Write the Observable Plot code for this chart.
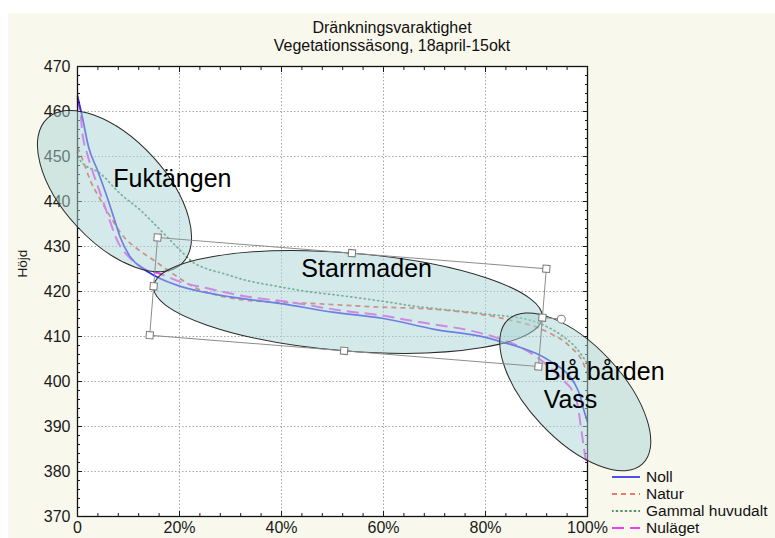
<!DOCTYPE html>
<html>
<head>
<meta charset="utf-8">
<script src="https://cdn.jsdelivr.net/npm/d3@7"></script>
<script src="https://cdn.jsdelivr.net/npm/@observablehq/plot@0.6"></script>
<style>
  body { margin: 0; background: #fff; font-family: "Liberation Sans", Arial, sans-serif; }
  #wrap { position: relative; width: 775px; height: 538px; overflow: hidden; }
  #bg { position: absolute; left: 8px; top: 13px; right: 0; bottom: 0; background: #f9f8ed; }
  #chart { position: absolute; left: 0; top: 0; }
  #title { position: absolute; left: 0; width: 784px; top: 19px; text-align: center; font-size: 16px; line-height: 17.5px; color: #111; }
  #legend { position: absolute; left: 612px; top: 468px; font-size: 15.5px; color: #111; }
  #legend .row { height: 17px; display: flex; align-items: center; white-space: nowrap; }
  #legend svg { margin-right: 6px; }
</style>
</head>
<body>
<div id="wrap">
  <div id="bg"></div>
  <div id="chart"></div>
  <div id="title">Dränkningsvaraktighet<br>Vegetationssäsong, 18april-15okt</div>
  <div id="legend"></div>
</div>
<script>
// ---- data ----
const xTicks = [0, 20, 40, 60, 80, 100];
const xTickLabels = ["0", "20%", "40%", "60%", "80%", "100%"];
const yTicks = [370, 380, 390, 400, 410, 420, 430, 440, 450, 460, 470];
const yLabel = "Höjd";

const seriesNames = ["Noll", "Natur", "Gammal huvudalt", "Nuläget"];

// [percent of time, height]
const noll = [[0,463.5],[0.3,462],[0.9,459],[2.2,452],[3.9,447],[5.8,441],[7.1,436.5],[8.4,432],[10.4,427.6],[13,425],[15.6,423.2],[20,421.2],[25,419.8],[30,418.8],[40,417.3],[50,415.4],[60,414],[70,411.6],[80,409.8],[83.5,408.7],[87,407.5],[90,406.2],[93,404.3],[96,401.8],[97.5,399.5],[98.5,397],[99.2,394],[100,391]];
const natur = [[0,452],[0.3,451.3],[1.2,448.7],[2.5,444.7],[4.2,441],[6.5,436.5],[9.1,432.1],[11.7,429.5],[15,426.9],[18.9,423.8],[23.5,420.6],[28,419],[32,418.2],[40,417.6],[45,417.4],[58,416.6],[70.5,416],[75,415.5],[80.4,414.7],[85,413.6],[90.2,412],[93,410.5],[95.3,409],[97,407.3],[98.6,405.3],[100,401.8]];
const gammal = [[0,451],[0.6,449],[4.5,446.2],[8.4,441.7],[12.4,438],[16.3,433.6],[20.2,429.1],[22.5,426.6],[25,425.2],[28.6,424],[33,422.5],[38.4,421.3],[45,420],[51.6,419.1],[60,417.8],[67,416.6],[71,416.1],[80,415],[88.8,413.6],[92,412.2],[95,410.2],[97.5,407.8],[100,404]];
const nulaget = [[0,463],[0.3,461.5],[0.6,459.5],[0.9,455.8],[1.9,450.6],[2.9,446.9],[4.5,441.7],[6.1,436.5],[7.8,431.3],[10.4,427.3],[13.7,424.7],[16,424],[20,422.2],[25.5,420.7],[32,419.1],[41.8,417.6],[51.6,415.8],[60,414.6],[67,413.2],[77,411.3],[82,409.8],[86.9,407.6],[90,405.5],[93.3,402.4],[95.5,400],[97.3,397.3],[98.2,394],[98.6,390.7],[99.2,386],[99.6,383.1],[100,382]];

// annotation zones (centres and label anchors in data units)
const zoneLabels = ["Fuktängen", "Starrmaden", "Blå bården\nVass"];
const zoneCx = [7.35, 53.14, 97.7];
const zoneCy = [442.2, 417.56, 397.6];
const zoneLx = [18.6, 56.7, 91.4];
const zoneLy = [445.1, 425.1, 399.3];

// ---- styles ----
const seriesStyle = [
  {stroke: "#2f2fee", dash: null, width: 1.7},
  {stroke: "#e8503f", dash: "5,4", width: 1.7},
  {stroke: "#4f9066", dash: "1,3.5", width: 1.8},
  {stroke: "#f43cf4", dash: "12,6", width: 2}
];
const zoneShape = [
  {rx: 99, ry: 51.5, rot: 47.3},
  {rx: 195, ry: 49, rot: 4.6},
  {rx: 98.6, ry: 47, rot: 47}
];

const allSeries = [noll, natur, gammal, nulaget];
const rows = [];
allSeries.forEach((s, i) => s.forEach(([p, h]) => rows.push({serie: seriesNames[i], p, h})));
const zones = zoneLabels.map((label, i) => ({label, cx: zoneCx[i], cy: zoneCy[i], lx: zoneLx[i], ly: zoneLy[i]}));

function ellipses(index, scales) {
  const g = d3.create("svg:g");
  zones.forEach((z, i) => {
    const s = zoneShape[i];
    g.append("ellipse")
      .attr("transform", `translate(${scales.x(z.cx)},${scales.y(z.cy)}) rotate(${s.rot})`)
      .attr("rx", s.rx).attr("ry", s.ry)
      .attr("fill", "rgb(170,212,212)").attr("fill-opacity", 0.5)
      .attr("stroke", "#2a2a2a").attr("stroke-width", 1);
  });
  return g.node();
}

function selection(index, scales) {
  const z = zones[1], s = zoneShape[1];
  const g = d3.create("svg:g")
    .attr("transform", `translate(${scales.x(z.cx)},${scales.y(z.cy)}) rotate(${s.rot})`);
  g.append("rect").attr("x", -s.rx).attr("y", -s.ry).attr("width", 2 * s.rx).attr("height", 2 * s.ry)
    .attr("fill", "none").attr("stroke", "#8c8c8c").attr("stroke-width", 1);
  g.append("line").attr("x1", s.rx).attr("y1", 0).attr("x2", s.rx + 15).attr("y2", 0)
    .attr("stroke", "#8c8c8c");
  g.append("circle").attr("cx", s.rx + 19).attr("cy", 0).attr("r", 4)
    .attr("fill", "white").attr("stroke", "#777").attr("stroke-width", 1);
  for (const hx of [-1, 0, 1]) for (const hy of [-1, 0, 1]) {
    if (hx === 0 && hy === 0) continue;
    g.append("rect").attr("x", hx * s.rx - 3.5).attr("y", hy * s.ry - 3.5).attr("width", 7).attr("height", 7)
      .attr("fill", "white").attr("stroke", "#777").attr("stroke-width", 1);
  }
  return g.node();
}

const xMinor = d3.range(0, 101, 4);
const yMinor = d3.range(370, 471, 2);
const blank = () => "";

const lineMarks = [2, 1, 3, 0].map(i => Plot.line(rows.filter(r => r.serie === seriesNames[i]), {
  x: "p", y: "h", curve: "monotone-x",
  stroke: seriesStyle[i].stroke, strokeWidth: seriesStyle[i].width,
  strokeDasharray: seriesStyle[i].dash, strokeLinecap: i === 2 ? "round" : "butt"
}));

const chart = Plot.plot({
  width: 775, height: 538,
  marginLeft: 77, marginRight: 188, marginTop: 66, marginBottom: 22,
  style: {background: "transparent", fontFamily: "Liberation Sans, Arial, sans-serif", fontSize: "16px", color: "#1a1a1a"},
  x: {domain: [0, 100], label: null},
  y: {domain: [370, 470], label: null},
  marks: [
    Plot.frame({fill: "white", stroke: null}),
    Plot.gridX(xTicks, {stroke: "#a8a8a8", strokeOpacity: 1, strokeDasharray: "1.5,2"}),
    Plot.gridY(yTicks, {stroke: "#a8a8a8", strokeOpacity: 1, strokeDasharray: "1.5,2"}),
    ...lineMarks,
    Plot.frame({stroke: "#111", strokeWidth: 1.3}),
    Plot.axisY(yTicks, {tickSize: 0, tickPadding: 7, label: null, fontSize: 16}),
    Plot.axisX(xTicks, {tickSize: 0, tickPadding: 5, label: null, fontSize: 16,
      tickFormat: d => xTickLabels[xTicks.indexOf(d)]}),
    Plot.axisY(yTicks, {anchor: "left", tickSize: -5, tickFormat: blank, label: null}),
    Plot.axisY(yMinor, {anchor: "left", tickSize: -3, tickFormat: blank, label: null}),
    Plot.axisY(yTicks, {anchor: "right", tickSize: -5, tickFormat: blank, label: null}),
    Plot.axisY(yMinor, {anchor: "right", tickSize: -3, tickFormat: blank, label: null}),
    Plot.axisX(xTicks, {anchor: "bottom", tickSize: -5, tickFormat: blank, label: null}),
    Plot.axisX(xMinor, {anchor: "bottom", tickSize: -3, tickFormat: blank, label: null}),
    Plot.axisX(xTicks, {anchor: "top", tickSize: -5, tickFormat: blank, label: null}),
    Plot.axisX(xMinor, {anchor: "top", tickSize: -3, tickFormat: blank, label: null}),
    Plot.text([yLabel], {frameAnchor: "left", dx: -55, dy: -14, rotate: -90, fontSize: 13.5, fill: "#1a1a1a"}),
    ellipses,
    Plot.text(zones.filter(d => !d.label.includes("\n")), {x: "lx", y: "ly", text: "label", fontSize: 25, fill: "#000", textAnchor: "middle"}),
    Plot.text(zones.filter(d => d.label.includes("\n")), {x: "lx", y: "ly", text: "label", fontSize: 25, fill: "#000", textAnchor: "start", lineHeight: 1.12}),
    selection
  ]
});
document.getElementById("chart").appendChild(chart);

// legend
const legend = document.getElementById("legend");
seriesNames.forEach((name, i) => {
  const st = seriesStyle[i];
  const row = document.createElement("div");
  row.className = "row";
  row.innerHTML = `<svg width="28" height="6"><line x1="0" y1="3" x2="28" y2="3" stroke="${st.stroke}" stroke-width="${st.width}" ${st.dash ? `stroke-dasharray="${st.dash}"` : ""} ${i === 2 ? 'stroke-linecap="round"' : ""}/></svg><span>${name}</span>`;
  legend.appendChild(row);
});
</script>
</body>
</html>
